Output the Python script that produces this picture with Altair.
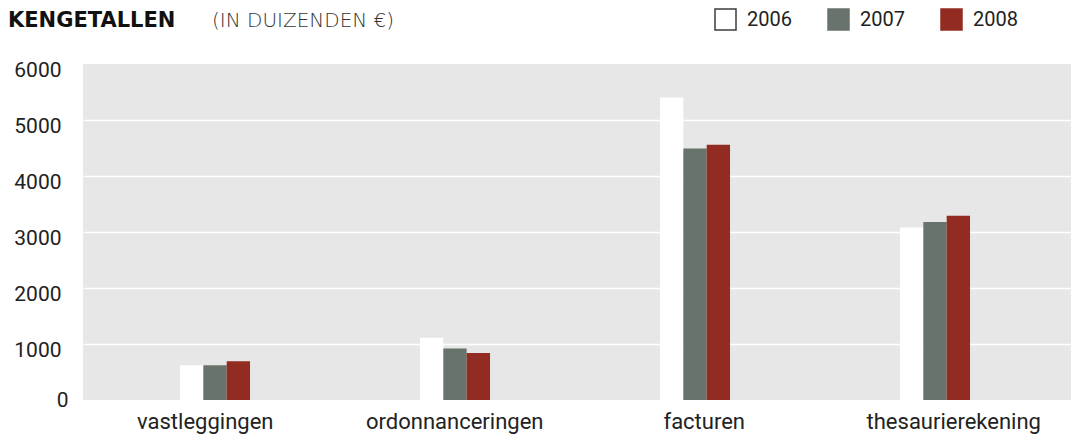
import altair as alt
import pandas as pd

categories = ["vastleggingen", "ordonnanceringen", "facturen", "thesaurierekening"]
years = ["2006", "2007", "2008"]
values_2006 = [620, 1110, 5400, 3080]
values_2007 = [620, 920, 4490, 3180]
values_2008 = [690, 840, 4560, 3290]
y_ticks = [0, 1000, 2000, 3000, 4000, 5000, 6000]
title_main = ["KENGETALLEN"]
title_sub = ["(IN DUIZENDEN €)"]

fill_colors = ["#ffffff", "#68736b", "#922c22"]
stroke_colors = ["#3c3c3c", "#68736b", "#922c22"]

rows = []
for yr, vals in zip(years, [values_2006, values_2007, values_2008]):
    for c, v in zip(categories, vals):
        rows.append({"categorie": c, "jaar": yr, "waarde": v})
df = pd.DataFrame(rows)

leg = alt.Legend(
    title=None, orient="none", legendX=631, legendY=-56, direction="horizontal",
    symbolType="square", symbolSize=441, symbolStrokeWidth=1.5,
    labelFont="Roboto", labelFontSize=20, labelColor="#222222",
    labelOffset=10, columnPadding=33, padding=0, symbolOffset=0,
)

yaxis = alt.Axis(
    values=y_ticks, title=None, domain=False, ticks=False, format="d",
    labelFont="Roboto", labelFontSize=21, labelColor="#222222",
    labelAlign="right", labelBaseline="middle",
    labelPadding={"condition": {"test": "datum.value === 0", "value": 15}, "value": 22},
    labelOffset={"condition": {"test": "datum.value === 0", "value": 0}, "value": 6},
    gridColor={"condition": {"test": "datum.value === 0 || datum.value === 6000", "value": "transparent"}, "value": "#ffffff"},
    gridWidth=1.5,
)

bars = alt.Chart(df).mark_bar(strokeWidth=0).encode(
    x=alt.X("categorie:N", sort=categories, axis=None,
            scale=alt.Scale(paddingInner=0.7083, paddingOuter=0.4125, align=0.49, round=False)),
    xOffset=alt.XOffset("jaar:N", sort=years, scale=alt.Scale(paddingInner=0, paddingOuter=0)),
    y=alt.Y("waarde:Q", scale=alt.Scale(domain=[0, 6000], nice=False), axis=yaxis),
    fill=alt.Fill("jaar:N", sort=years, scale=alt.Scale(domain=years, range=fill_colors), legend=leg),
    stroke=alt.Stroke("jaar:N", sort=years, scale=alt.Scale(domain=years, range=stroke_colors), legend=leg),
)

labels = alt.Chart(pd.DataFrame({"categorie": categories})).mark_point(opacity=0).encode(
    x=alt.X("categorie:N", sort=categories,
            scale=alt.Scale(paddingInner=0, paddingOuter=0, range=[-3, 995]),
            axis=alt.Axis(title=None, orient="bottom", domain=False, ticks=False, tickSize=0,
                          labelFont="Roboto", labelFontSize=22, labelAngle=0,
                          labelPadding=28, labelBaseline="alphabetic",
                          labelColor="#222222")),
)

t1 = alt.Chart(pd.DataFrame({"t": title_main})).mark_text(
    align="left", baseline="alphabetic", font="DejaVu Sans", fontSize=21,
    fontWeight="bold", color="#111111",
).encode(text="t:N", x=alt.value(-75), y=alt.value(-37))

t2 = alt.Chart(pd.DataFrame({"t": title_sub})).mark_text(
    align="left", baseline="alphabetic", font="DejaVu Sans", fontSize=20,
    fontWeight=200, color="#333333",
).encode(text="t:N", x=alt.value(129), y=alt.value(-37))

chart = alt.layer(bars, labels, t1, t2).resolve_scale(x="independent").properties(
    width=988, height=336,
    padding={"left": 75, "top": 56, "right": 0, "bottom": 36},
    autosize=alt.AutoSizeParams(type="none"),
    background="#ffffff",
).configure_view(fill="#e6e7e6", stroke=None)

chart.save("out.html", embed_options={"renderer": "svg", "actions": False})
